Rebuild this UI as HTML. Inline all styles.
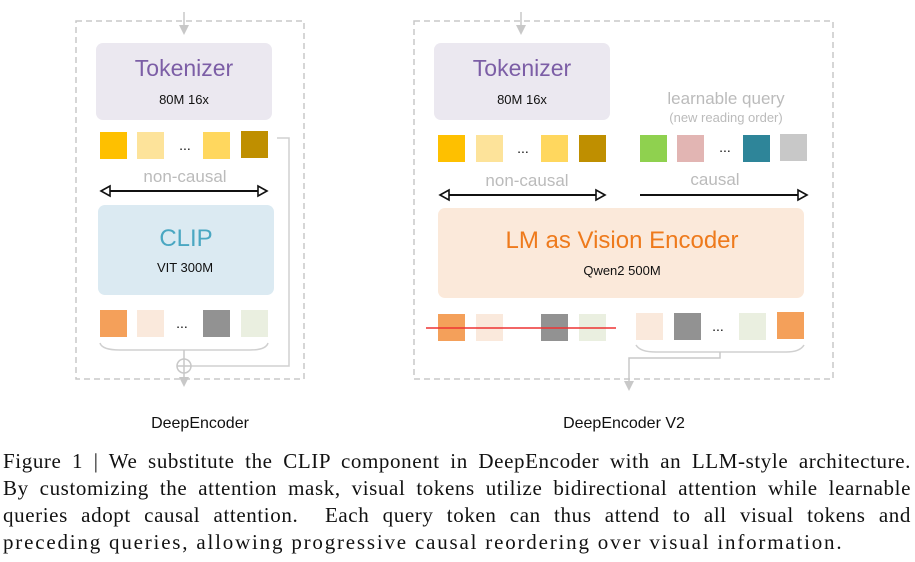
<!DOCTYPE html>
<html><head><meta charset="utf-8"><style>
html,body{margin:0;padding:0;background:#fff;width:915px;height:562px;overflow:hidden;position:relative}
svg{position:absolute;left:0;top:0}
.cap{position:absolute;left:3px;width:908px;font-family:"Liberation Serif",serif;font-size:21px;letter-spacing:1.8px;color:#111;text-align:justify;text-align-last:justify;white-space:nowrap;line-height:27px}
</style></head><body>
<svg width="915" height="440" viewBox="0 0 915 440" font-family="Liberation Sans, sans-serif">
<defs>
<marker id="ah" markerWidth="10" markerHeight="10" refX="5" refY="5" orient="auto" markerUnits="userSpaceOnUse"><path d="M0,0 L10,5 L0,10 Z" fill="#c8c8c8"/></marker>
</defs>
<rect x="76" y="21" width="228" height="358" fill="none" stroke="#c8c8c8" stroke-width="1.5" stroke-dasharray="6,4"/>
<line x1="184" y1="12" x2="184" y2="30" stroke="#c8c8c8" stroke-width="1.5" marker-end="url(#ah)"/>
<rect x="96" y="43" width="176" height="77" rx="7" fill="#ebe8f0"/>
<text x="184" y="76" text-anchor="middle" font-size="23" fill="#7c5ea6">Tokenizer</text>
<text x="184" y="104" text-anchor="middle" font-size="13" fill="#111">80M 16x</text>
<rect x="100" y="132" width="27" height="27" fill="#fec000"/>
<rect x="137" y="132" width="27" height="27" fill="#fde39a"/>
<text x="185" y="150" text-anchor="middle" font-size="14" fill="#111">...</text>
<rect x="203" y="132" width="27" height="27" fill="#ffd75e"/>
<rect x="241" y="131" width="27" height="27" fill="#bf8f00"/>
<text x="185" y="182" text-anchor="middle" font-size="17" fill="#bbb">non-causal</text>
<line x1="104" y1="191" x2="264" y2="191" stroke="#111" stroke-width="2"/>
<path d="M101,191 L110,186 L110,196 Z" fill="#fff" stroke="#111" stroke-width="1.6"/>
<path d="M267,191 L258,186 L258,196 Z" fill="#fff" stroke="#111" stroke-width="1.6"/>
<rect x="98" y="205" width="176" height="90" rx="7" fill="#dbeaf2"/>
<text x="186" y="246" text-anchor="middle" font-size="24" fill="#4aa7c2">CLIP</text>
<text x="185" y="272" text-anchor="middle" font-size="13" fill="#111">VIT 300M</text>
<rect x="100" y="310" width="27" height="27" fill="#f4a05a"/>
<rect x="137" y="310" width="27" height="27" fill="#fae9dc"/>
<text x="182" y="328" text-anchor="middle" font-size="14" fill="#111">...</text>
<rect x="203" y="310" width="27" height="27" fill="#929292"/>
<rect x="241" y="310" width="27" height="27" fill="#eaefe0"/>
<path d="M100,343 Q102,350 120,350 L250,350 Q266,350 268,343" fill="none" stroke="#d0d0d0" stroke-width="1.5"/>
<path d="M277,138 L289,138 L289,366 L191,366" fill="none" stroke="#d0d0d0" stroke-width="1.5"/>
<line x1="184" y1="350" x2="184" y2="382" stroke="#c8c8c8" stroke-width="1.5" marker-end="url(#ah)"/>
<circle cx="184" cy="366" r="7" fill="#fff" stroke="#c8c8c8" stroke-width="1.5"/>
<line x1="177" y1="366" x2="191" y2="366" stroke="#c8c8c8" stroke-width="1.5"/>
<line x1="184" y1="359" x2="184" y2="373" stroke="#c8c8c8" stroke-width="1.5"/>
<text x="200" y="428" text-anchor="middle" font-size="16" fill="#111">DeepEncoder</text>
<rect x="414" y="21" width="419" height="358" fill="none" stroke="#c8c8c8" stroke-width="1.5" stroke-dasharray="6,4"/>
<line x1="521" y1="12" x2="521" y2="30" stroke="#c8c8c8" stroke-width="1.5" marker-end="url(#ah)"/>
<rect x="434" y="43" width="176" height="77" rx="7" fill="#ebe8f0"/>
<text x="522" y="76" text-anchor="middle" font-size="23" fill="#7c5ea6">Tokenizer</text>
<text x="522" y="104" text-anchor="middle" font-size="13" fill="#111">80M 16x</text>
<text x="726" y="104" text-anchor="middle" font-size="17" fill="#bbb">learnable query</text>
<text x="726" y="122" text-anchor="middle" font-size="13" fill="#bbb">(new reading order)</text>
<rect x="438" y="135" width="27" height="27" fill="#fec000"/>
<rect x="476" y="135" width="27" height="27" fill="#fde39a"/>
<text x="523" y="153" text-anchor="middle" font-size="14" fill="#111">...</text>
<rect x="541" y="135" width="27" height="27" fill="#ffd75e"/>
<rect x="579" y="135" width="27" height="27" fill="#bf8f00"/>
<rect x="640" y="135" width="27" height="27" fill="#8fd14f"/>
<rect x="677" y="135" width="27" height="27" fill="#e2b5b3"/>
<text x="725" y="152" text-anchor="middle" font-size="14" fill="#111">...</text>
<rect x="743" y="135" width="27" height="27" fill="#2e8599"/>
<rect x="780" y="134" width="27" height="27" fill="#c8c8c8"/>
<text x="527" y="186" text-anchor="middle" font-size="17" fill="#bbb">non-causal</text>
<text x="715" y="185" text-anchor="middle" font-size="17" fill="#bbb">causal</text>
<line x1="443" y1="195" x2="602" y2="195" stroke="#111" stroke-width="2"/>
<path d="M440,195 L449,190 L449,200 Z" fill="#fff" stroke="#111" stroke-width="1.6"/>
<path d="M605,195 L596,190 L596,200 Z" fill="#fff" stroke="#111" stroke-width="1.6"/>
<line x1="640" y1="195" x2="804" y2="195" stroke="#111" stroke-width="2"/>
<path d="M807,195 L798,190 L798,200 Z" fill="#fff" stroke="#111" stroke-width="1.6"/>
<rect x="438" y="208" width="366" height="90" rx="7" fill="#fbe9da"/>
<text x="622" y="248" text-anchor="middle" font-size="24" fill="#ee7a1c">LM as Vision Encoder</text>
<text x="622" y="275" text-anchor="middle" font-size="13" fill="#111">Qwen2 500M</text>
<rect x="438" y="314" width="27" height="27" fill="#f4a05a"/>
<rect x="476" y="314" width="27" height="27" fill="#fae9dc"/>
<rect x="541" y="314" width="27" height="27" fill="#929292"/>
<rect x="579" y="314" width="27" height="27" fill="#eaefe0"/>
<line x1="426" y1="328" x2="616" y2="328" stroke="#ee3333" stroke-width="1.5"/>
<rect x="636" y="313" width="27" height="27" fill="#fae9dc"/>
<rect x="674" y="313" width="27" height="27" fill="#929292"/>
<text x="718" y="331" text-anchor="middle" font-size="14" fill="#111">...</text>
<rect x="739" y="313" width="27" height="27" fill="#eaefe0"/>
<rect x="777" y="312" width="27" height="27" fill="#f4a05a"/>
<path d="M636,345 Q640,352 656,352 L786,352 Q800,352 804,345" fill="none" stroke="#d0d0d0" stroke-width="1.5"/>
<path d="M720,352 L720,358 L629,358 L629,386" fill="none" stroke="#c8c8c8" stroke-width="1.5" marker-end="url(#ah)"/>
<text x="624" y="428" text-anchor="middle" font-size="16" fill="#111">DeepEncoder V2</text>
</svg>
<div class="cap" style="top:448px;letter-spacing:0.6px">Figure 1 | We substitute the CLIP component in DeepEncoder with an LLM-style architecture.</div>
<div class="cap" style="top:475px;letter-spacing:0.6px">By customizing the attention mask, visual tokens utilize bidirectional attention while learnable</div>
<div class="cap" style="top:502px;letter-spacing:0.6px">queries adopt causal attention.&nbsp; Each query token can thus attend to all visual tokens and</div>
<div class="cap" style="top:529px;text-align-last:left">preceding queries, allowing progressive causal reordering over visual information.</div>
</body></html>
